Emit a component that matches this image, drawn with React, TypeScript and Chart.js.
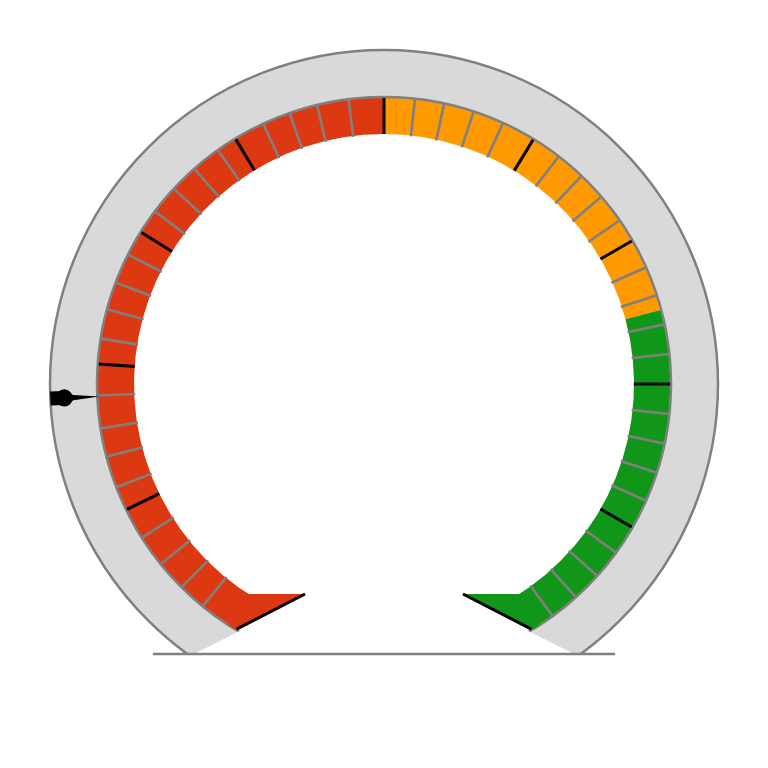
import React, { useEffect, useRef } from 'react';
import { Chart, registerables } from 'chart.js';

Chart.register(...registerables);

// Gauge scale expressed in degrees (clockwise from top)
const bandNames = ['Low', 'Medium', 'High'];
const bandFrom = [-149, 0, 75];
const bandTo = [0, 75, 149];
const bandColors = ['#DC3912', '#FF9900', '#109618'];

const majorTicks = [-116, -86, -58, -31.2, 0, 31.4, 60, 90, 120];
const minorTicks = [
  -140.8, -135.1, -128.9, -122.4,
  -111.1, -104.7, -98.9, -92.3,
  -80.9, -74.9, -69.3, -63.2,
  -53, -47.1, -41.4, -35.4,
  -24.9, -19.2, -13.5, -7.1,
  6.2, 12.1, 18.2, 24.5,
  37.5, 43.5, 49.2, 55.2,
  66, 72, 78, 84,
  96, 102, 108, 114,
  126, 132, 138, 144,
];
const needleValue = -92.5;

const RING_OUTER = 334;
const BAND_OUTER = 287;
const BAND_INNER = 250;

export default function App() {
  const ref = useRef<HTMLCanvasElement>(null);

  useEffect(() => {
    const polar = (cx: number, cy: number, r: number, deg: number) => {
      const a = (deg * Math.PI) / 180;
      return { x: cx + r * Math.sin(a), y: cy - r * Math.cos(a) };
    };

    const gaugePlugin = {
      id: 'gaugeDecor',
      beforeDatasetDraw(chart: any, args: any) {
        if (args.index !== 0) return;
        const arc = chart.getDatasetMeta(0).data[0];
        const cx = arc.x;
        const cy = arc.y;
        const ctx = chart.ctx;
        ctx.save();
        ctx.beginPath();
        ctx.moveTo(cx - 420, cy - 420);
        ctx.lineTo(cx + 420, cy - 420);
        ctx.lineTo(cx + 420, cy + 270);
        ctx.lineTo(cx + 190, cy + 270);
        ctx.lineTo(cx + 69, cy + 209);
        ctx.lineTo(cx - 69, cy + 209);
        ctx.lineTo(cx - 190, cy + 270);
        ctx.lineTo(cx - 420, cy + 270);
        ctx.closePath();
        ctx.clip();
      },
      afterDatasetDraw(chart: any, args: any) {
        if (args.index !== 0) return;
        chart.ctx.restore();
      },
      afterDatasetsDraw(chart: any) {
        const ctx = chart.ctx;
        const arc = chart.getDatasetMeta(1).data[0];
        const cx = arc.x;
        const cy = arc.y;
        const rO = arc.outerRadius;
        const rI = arc.innerRadius;
        const p = (r: number, d: number) => polar(cx, cy, r, d);

        // end wedges of the band
        const ends = [
          { sign: -1, deg: bandFrom[0], color: bandColors[0] },
          { sign: 1, deg: bandTo[bandTo.length - 1], color: bandColors[bandColors.length - 1] },
        ];
        const tipDy = 210;
        const tipDx = 79;
        ends.forEach((e) => {
          const aDeg = (Math.acos(-tipDy / rI) * 180) / Math.PI * e.sign;
          const A = p(rI, aDeg);
          const B = { x: cx + e.sign * tipDx, y: cy + tipDy };
          const C = p(rO, e.deg);
          const D = p(rO, aDeg);
          ctx.save();
          ctx.fillStyle = e.color;
          ctx.beginPath();
          ctx.moveTo(A.x, A.y);
          ctx.lineTo(B.x, B.y);
          ctx.lineTo(C.x, C.y);
          ctx.lineTo(D.x, D.y);
          ctx.closePath();
          ctx.fill();
          ctx.restore();
        });

        // minor ticks
        ctx.save();
        ctx.strokeStyle = '#808080';
        ctx.lineWidth = 2.6;
        minorTicks.forEach((d) => {
          const a = p(rI - 1, d);
          const b = p(rO, d);
          ctx.beginPath();
          ctx.moveTo(a.x, a.y);
          ctx.lineTo(b.x, b.y);
          ctx.stroke();
        });
        ctx.restore();

        // major ticks
        ctx.save();
        ctx.strokeStyle = '#000000';
        ctx.lineWidth = 3;
        majorTicks.forEach((d) => {
          const a = p(rI, d);
          const b = p(rO - 1, d);
          ctx.beginPath();
          ctx.moveTo(a.x, a.y);
          ctx.lineTo(b.x, b.y);
          ctx.stroke();
        });
        // black edges of the end wedges
        ends.forEach((e) => {
          const B = { x: cx + e.sign * tipDx, y: cy + tipDy };
          const C = p(rO - 1, e.deg);
          ctx.beginPath();
          ctx.moveTo(B.x, B.y);
          ctx.lineTo(C.x, C.y);
          ctx.stroke();
        });
        ctx.restore();

        // baseline
        ctx.save();
        ctx.strokeStyle = '#808080';
        ctx.lineWidth = 2.6;
        ctx.beginPath();
        ctx.moveTo(cx - 231, cy + 270);
        ctx.lineTo(cx + 231, cy + 270);
        ctx.stroke();
        ctx.restore();

        // needle
        const th = (needleValue * Math.PI) / 180;
        const ux = Math.sin(th);
        const uy = -Math.cos(th);
        const vx = Math.cos(th);
        const vy = Math.sin(th);
        const P = (r: number, w: number) => ({ x: cx + r * ux + w * vx, y: cy + r * uy + w * vy });
        const pts = [P(334, -7), P(321, -7), P(311, -2.6), P(285, 0), P(311, 2.6), P(321, 7), P(334, 7)];
        ctx.save();
        ctx.fillStyle = '#000000';
        ctx.beginPath();
        ctx.moveTo(pts[0].x, pts[0].y);
        for (let i = 1; i < pts.length; i++) ctx.lineTo(pts[i].x, pts[i].y);
        ctx.closePath();
        ctx.fill();
        const pv = P(320, 0);
        ctx.beginPath();
        ctx.arc(pv.x, pv.y, 8.6, 0, Math.PI * 2);
        ctx.fill();
        ctx.restore();
      },
    };

    const chart = new Chart(ref.current as HTMLCanvasElement, {
      type: 'doughnut',
      data: {
        labels: bandNames,
        datasets: [
          {
            data: [1],
            backgroundColor: '#d9d9d9',
            borderColor: '#808080',
            borderWidth: 2.5,
            rotation: 180,
            circumference: 360,
            weight: RING_OUTER - BAND_OUTER,
          } as any,
          {
            data: bandTo.map((t, i) => t - bandFrom[i]),
            backgroundColor: bandColors,
            borderWidth: 0,
            rotation: bandFrom[0],
            circumference: bandTo[bandTo.length - 1] - bandFrom[0],
            weight: BAND_OUTER - BAND_INNER,
          } as any,
        ],
      },
      options: {
        animation: false,
        responsive: true,
        maintainAspectRatio: false,
        radius: RING_OUTER,
        cutout: `${(BAND_INNER / RING_OUTER) * 100}%`,
        events: [],
        layout: { padding: 0 },
        plugins: {
          legend: { display: false },
          tooltip: { enabled: false },
        },
      } as any,
      plugins: [gaugePlugin],
    });
    return () => chart.destroy();
  }, []);

  return (
    <div style={{ position: 'absolute', left: 0, top: 0, width: 768, height: 768, background: '#ffffff' }}>
      <canvas ref={ref} />
    </div>
  );
}
